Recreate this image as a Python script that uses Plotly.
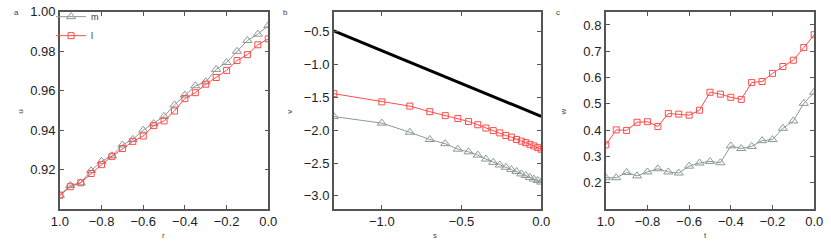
import plotly.graph_objects as go

# panel a
r = [-1.0, -0.95, -0.9, -0.85, -0.8, -0.75, -0.7, -0.65, -0.6, -0.55, -0.5,
     -0.45, -0.4, -0.35, -0.3, -0.25, -0.2, -0.15, -0.1, -0.05, 0.0]
u_m = [0.907, 0.912, 0.9133, 0.9195, 0.9242, 0.927, 0.9325, 0.9353, 0.940, 0.9433, 0.947,
       0.9528, 0.9578, 0.9625, 0.9645, 0.9708, 0.9743, 0.980, 0.9855, 0.9887, 0.993]
u_l = [0.907, 0.9113, 0.9133, 0.918, 0.9225, 0.9267, 0.9307, 0.9343, 0.937, 0.9423, 0.9447,
       0.9497, 0.956, 0.959, 0.9633, 0.9667, 0.9703, 0.9753, 0.9783, 0.9833, 0.9863]

# panel b
s = [-1.301, -1.0, -0.824, -0.699, -0.602, -0.523, -0.456, -0.398, -0.347, -0.301,
     -0.260, -0.222, -0.187, -0.155, -0.125, -0.097, -0.071, -0.046, -0.022, 0.0]
v_l = [-1.445, -1.57, -1.634, -1.719, -1.779, -1.823, -1.868, -1.918, -1.968, -2.007,
       -2.042, -2.082, -2.107, -2.142, -2.167, -2.19, -2.216, -2.24, -2.266, -2.29]
v_m = [-1.793, -1.893, -2.032, -2.142, -2.206, -2.29, -2.33, -2.38, -2.44, -2.49,
       -2.53, -2.565, -2.6, -2.63, -2.666, -2.69, -2.72, -2.745, -2.765, -2.79]
s_ref = [-1.301, 0.0]
v_ref = [-0.49, -1.79]

# panel c
t = r
w_l = [0.344, 0.401, 0.399, 0.43, 0.432, 0.414, 0.463, 0.461, 0.457, 0.476, 0.544,
       0.537, 0.525, 0.517, 0.581, 0.585, 0.616, 0.642, 0.666, 0.714, 0.763]
w_m = [0.219, 0.219, 0.239, 0.226, 0.241, 0.253, 0.241, 0.237, 0.263, 0.275, 0.281,
       0.276, 0.34, 0.33, 0.338, 0.36, 0.364, 0.407, 0.435, 0.502, 0.544]

GRAY = "#8c9898"
RED = "#ff4d4d"
W, H = 831, 243

fig = go.Figure()

def add_pair(x, ym, yl, xa, ya, legend):
    fig.add_trace(go.Scatter(x=x, y=ym, name="m", mode="lines+markers", xaxis=xa, yaxis=ya,
                             line=dict(color=GRAY, width=1),
                             marker=dict(symbol="triangle-up-open", size=8, color=GRAY),
                             showlegend=legend))
    fig.add_trace(go.Scatter(x=x, y=yl, name="l", mode="lines+markers", xaxis=xa, yaxis=ya,
                             line=dict(color=RED, width=1),
                             marker=dict(symbol="square-open", size=6, color=RED),
                             showlegend=legend))

add_pair(r, u_m, u_l, "x", "y", True)
add_pair(s, v_m, v_l, "x2", "y2", False)
fig.add_trace(go.Scatter(x=s_ref, y=v_ref, mode="lines", xaxis="x2", yaxis="y2",
                         line=dict(color="black", width=3), showlegend=False))
add_pair(t, w_m, w_l, "x3", "y3", False)

tickfont = dict(family="Liberation Sans, Arial", size=13, color="#222")
common = dict(showgrid=False, zeroline=False, showline=True, mirror="ticks",
              linecolor="#555", linewidth=1.5, ticks="inside", ticklen=4,
              tickcolor="#555", tickfont=tickfont, ticklabeloverflow="allow")

ydom = [1 - 208 / H, 1 - 5 / H]
doms = [[52 / W, 265 / W], [332 / W, 544 / W], [610 / W, 823 / W]]

rt_vals = [-1.0, -0.8, -0.6, -0.4, -0.2, 0.0]
rt_text = ["1.0", "\u22120.8", "\u22120.6", "\u22120.4", "\u22120.2", "0.0"]

fig.update_layout(
    width=W, height=H, margin=dict(l=0, r=0, t=0, b=0),
    plot_bgcolor="white", paper_bgcolor="white",
    xaxis=dict(domain=doms[0], range=[-1.0, 0.0], tickvals=rt_vals, ticktext=rt_text, anchor="y", **common),
    yaxis=dict(domain=ydom, range=[0.90, 1.00], tickvals=[0.92, 0.94, 0.96, 0.98, 1.00],
               tickformat=".2f", anchor="x", **common),
    xaxis2=dict(domain=doms[1], range=[-1.301, 0.0], tickvals=[-1.0, -0.5, 0.0],
                tickformat=".1f", anchor="y2", **common),
    yaxis2=dict(domain=ydom, range=[-3.2, -0.2], tickvals=[-3.0, -2.5, -2.0, -1.5, -1.0, -0.5],
                tickformat=".1f", anchor="x2", **common),
    xaxis3=dict(domain=doms[2], range=[-1.0, 0.0], tickvals=rt_vals, ticktext=rt_text, anchor="y3", **common),
    yaxis3=dict(domain=ydom, range=[0.1, 0.85], tickvals=[0.2, 0.3, 0.4, 0.5, 0.6, 0.7, 0.8],
                tickformat=".1f", anchor="x3", **common),
    legend=dict(x=43 / W, y=1 + 5 / H, xanchor="left", yanchor="top", bgcolor="rgba(0,0,0,0)",
                font=dict(family="Liberation Sans, Arial", size=9, color="#333"),
                itemwidth=30, tracegroupgap=2),
)

small = dict(family="Liberation Sans, Arial", size=8, color="#444")
annots = []
for x0, letter in [(3, "a"), (278, "b"), (557, "c")]:
    annots.append(dict(x=x0 / W, y=1 - 6 / H, text=letter, xref="paper", yref="paper",
                       showarrow=False, xanchor="left", yanchor="middle", font=small))
for x0, lab in [(12, "u"), (287, "v"), (567, "w")]:
    annots.append(dict(x=x0 / W, y=1 - 108 / H, text=lab, textangle=-90, xref="paper", yref="paper",
                       showarrow=False, xanchor="center", yanchor="middle", font=small))
for x0, lab in [(158, "r"), (435, "s"), (712, "t")]:
    annots.append(dict(x=x0 / W, y=1 - 235 / H, text=lab, xref="paper", yref="paper",
                       showarrow=False, xanchor="center", yanchor="middle", font=small))
fig.update_layout(annotations=annots)

fig.write_html("out.html", config={"displayModeBar": False},
               post_script="document.body.style.margin='0';document.body.style.overflow='hidden';")
